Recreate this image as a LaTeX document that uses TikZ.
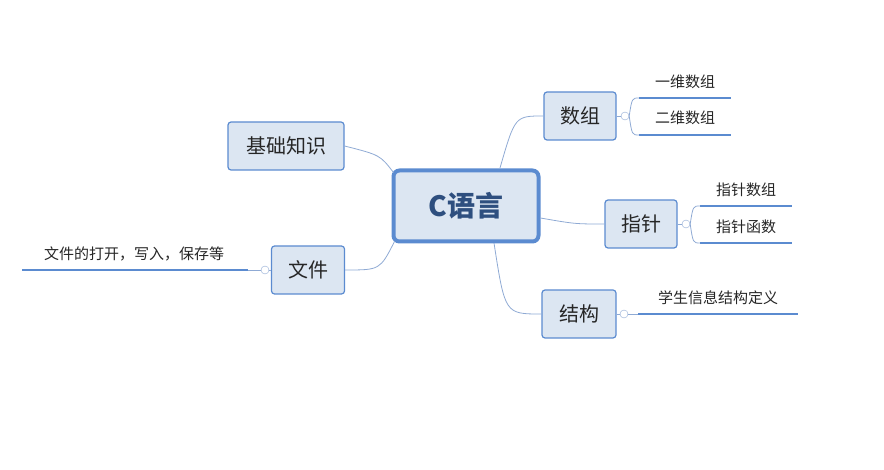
\documentclass[tikz,border=0pt]{standalone}
\usepackage{fontspec}
\newfontfamily\cjk{Noto Sans CJK SC}
\definecolor{boxfill}{HTML}{DCE6F2}
\definecolor{boxline}{HTML}{5B8BD0}
\definecolor{linkline}{HTML}{8FAAD4}
\definecolor{deep}{HTML}{2E4F7F}
\tikzset{
  topicbox/.style={draw=boxline,fill=boxfill,rounded corners=3pt,line width=1.2pt,
    minimum height=48pt,inner xsep=10pt,font=\cjk\fontsize{20}{22}\selectfont,text=black!85},
  centerbox/.style={topicbox,line width=4pt,rounded corners=6pt,minimum width=145pt,
    minimum height=71pt,font=\cjk\bfseries\fontsize{28}{30}\selectfont,text=deep},
  leaftext/.style={font=\cjk\fontsize{15}{17}\selectfont,text=black!85},
  leafline/.style={draw=boxline,line width=2pt},
  link/.style={draw=linkline,line width=0.8pt},
  knob/.style={circle,draw=linkline,fill=white,inner sep=0pt,minimum size=8pt}
}
\begin{document}
\begin{tikzpicture}[x=1pt,y=-1pt]
    \useasboundingbox (0,0) rectangle (884,470);
    % main topics
    \node[centerbox] (c) at (466,206) {C语言};
    \node[topicbox,minimum width=116pt] (jc) at (286,146) {基础知识};
    \node[topicbox,minimum width=73pt] (wj) at (308,270) {文件};
    \node[topicbox,minimum width=72pt] (sz) at (580,116) {数组};
    \node[topicbox,minimum width=72pt] (zz) at (641,224) {指针};
    \node[topicbox,minimum width=74pt] (jg) at (579,314) {结构};

    % links from the centre
    \draw[link] (c.north west) ++(2,4) .. controls (380,155) .. (jc.east);
    \draw[link] (c.south west) ++(3,-2) .. controls (380,270) .. (wj.east);
    \draw[link] (500,168) .. controls (515,116) .. (sz.west);
    \draw[link] (c.east) ++(0,12) .. controls (575,224) .. (zz.west);
    \draw[link] (494,243) .. controls (505,314) .. (jg.west);

    % knobs
    \node[knob] (k1) at (625,116) {};
    \node[knob] (k2) at (686,224) {};
    \node[knob] (k3) at (624,314) {};
    \node[knob] (k4) at (265,270) {};
    \draw[link] (sz.east) -- (k1.west);
    \draw[link] (zz.east) -- (k2.west);
    \draw[link] (jg.east) -- (k3.west);
    \draw[link] (wj.west) -- (k4.east);

    % leaves of 数组
    \coordinate (a1) at (639,98);  \coordinate (a1e) at (731,98);
    \coordinate (a2) at (639,135); \coordinate (a2e) at (731,135);
    \node[leaftext] (t1) at (685,82) {一维数组};
    \node[leaftext] (t2) at (685,118) {二维数组};
    \draw[leafline] (a1) -- (a1e);
    \draw[leafline] (a2) -- (a2e);
    \draw[link] (k1.east) .. controls (632,98) .. (a1);
    \draw[link] (k1.east) .. controls (632,135) .. (a2);

    % leaves of 指针
    \coordinate (b1) at (700,206); \coordinate (b1e) at (792,206);
    \coordinate (b2) at (700,243); \coordinate (b2e) at (792,243);
    \node[leaftext] (t3) at (746,190) {指针数组};
    \node[leaftext] (t4) at (746,227) {指针函数};
    \draw[leafline] (b1) -- (b1e);
    \draw[leafline] (b2) -- (b2e);
    \draw[link] (k2.east) .. controls (693,206) .. (b1);
    \draw[link] (k2.east) .. controls (693,243) .. (b2);

    % leaf of 结构
    \coordinate (c1) at (638,314); \coordinate (c1e) at (798,314);
    \node[leaftext] (t5) at (718,298) {学生信息结构定义};
    \draw[leafline] (c1) -- (c1e);
    \draw[link] (k3.east) -- (c1);

    % leaf of 文件
    \coordinate (d1) at (22,270); \coordinate (d1e) at (248,270);
    \node[leaftext] (t6) at (134,254) {文件的打开，写入，保存等};
    \draw[leafline] (d1) -- (d1e);
    \draw[link] (d1e) -- (k4.west);
\end{tikzpicture}
\end{document}
